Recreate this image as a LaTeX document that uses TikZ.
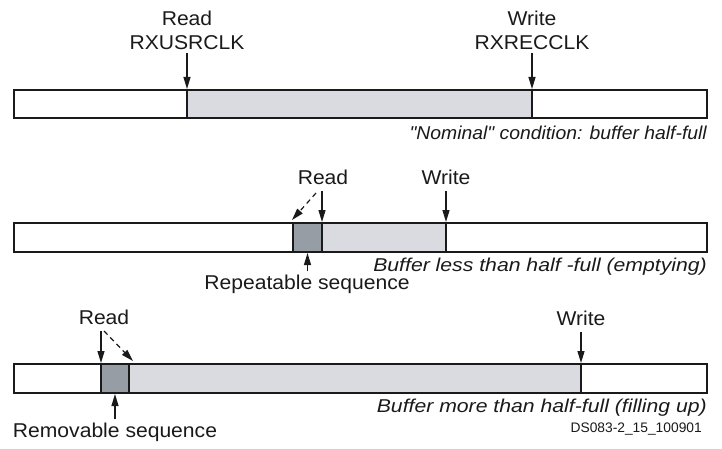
\documentclass[tikz,border=0pt]{standalone}
\usepackage{fontspec}
\setmainfont{Liberation Sans}[Ligatures=TeXOff]
\usetikzlibrary{arrows.meta}
\definecolor{lightfill}{HTML}{DADBE0}
\definecolor{darkfill}{HTML}{969DA5}
\definecolor{ink}{HTML}{1A1A1A}
\newcommand{\lbltext}[1]{\scalebox{1.055}[1]{#1}}
\newcommand{\captext}[2]{\scalebox{#1}[1]{#2}}
\begin{document}
\begin{tikzpicture}[x=1pt,y=-1pt,
  lbl/.style={font=\fontsize{20}{22}\selectfont, text=ink, inner sep=0pt},
  captxt/.style={font=\fontsize{18.6}{22}\selectfont\itshape, text=ink, inner sep=0pt, anchor=east},
  tinytxt/.style={font=\fontsize{13.8}{16}\selectfont, text=ink, inner sep=0pt, anchor=east},
  barline/.style={draw=ink, line width=2.6pt},
  arr/.style={draw=ink, line width=1.2pt, -{Triangle[length=12pt,width=7pt]}},
  darr/.style={draw=ink, line width=1.2pt, dash pattern=on 5pt off 4pt, -{Triangle[length=12pt,width=7pt]}}]
\useasboundingbox (0,0) rectangle (722,449);

% ---------- Bar 1 ----------
\fill[white] (14,90) rectangle (707,118);
\fill[lightfill] (187,90) rectangle (532,118);
\draw[barline] (14,90) rectangle (707,118);
\draw[barline] (187,90) -- (187,118);
\draw[barline] (532,90) -- (532,118);
\coordinate (r1) at (187,89);
\coordinate (w1) at (532,89);
\node[lbl] (read1) at (187,18) {\lbltext{Read}};
\node[lbl] (rxusr) at (187,43) {\lbltext{RXUSRCLK}};
\node[lbl] (write1) at (532,18) {\lbltext{Write}};
\node[lbl] (rxrec) at (532,43) {\lbltext{RXRECCLK}};
\draw[arr] (rxusr.south -| r1) ++(0,3) -- (r1);
\draw[arr] (rxrec.south -| w1) ++(0,3) -- (w1);
\node[captxt] (cap1) at (707,133) {\captext{1.04}{"Nominal" condition: buffer half-full}};

% ---------- Bar 2 ----------
\fill[white] (14,223) rectangle (707,252);
\fill[darkfill] (293,223) rectangle (322,252);
\fill[lightfill] (322,223) rectangle (446,252);
\draw[barline] (14,223) rectangle (707,252);
\draw[barline] (293,223) -- (293,252);
\draw[barline] (322,223) -- (322,252);
\draw[barline] (446,223) -- (446,252);
\coordinate (r2) at (322,222);
\coordinate (r2d) at (292,220);
\coordinate (w2) at (446,222);
\coordinate (rep) at (307.5,253);
\node[lbl] (read2) at (323,177) {\lbltext{Read}};
\node[lbl] (write2) at (446,177) {\lbltext{Write}};
\draw[arr] (322,191) -- (r2);
\draw[darr] (316,193) -- (r2d);
\draw[arr] (446,191) -- (w2);
\node[captxt] (cap2) at (707,267) {\captext{1.14}{Buffer less than half -full (emptying)}};
\node[lbl] (repeat) at (307,284) {\lbltext{Repeatable sequence}};
\draw[arr] (repeat.north -| rep) ++(0,-3) -- (rep);

% ---------- Bar 3 ----------
\fill[white] (14,364) rectangle (707,393);
\fill[darkfill] (101,364) rectangle (129,393);
\fill[lightfill] (129,364) rectangle (581,393);
\draw[barline] (14,364) rectangle (707,393);
\draw[barline] (101,364) -- (101,393);
\draw[barline] (129,364) -- (129,393);
\draw[barline] (581,364) -- (581,393);
\coordinate (r3) at (101,363);
\coordinate (r3d) at (133,361);
\coordinate (w3) at (581,363);
\coordinate (rem) at (115,394);
\node[lbl] (read3) at (104,317) {\lbltext{Read}};
\node[lbl] (write3) at (581,318) {\lbltext{Write}};
\draw[arr] (101,331) -- (r3);
\draw[darr] (104,331) -- (r3d);
\draw[arr] (581,332) -- (w3);
\node[captxt] (cap3) at (707,408) {\captext{1.14}{Buffer more than half-full (filling up)}};
\node[lbl] (remove) at (115,432) {\lbltext{Removable sequence}};
\draw[arr] (remove.north -| rem) ++(0,-3) -- (rem);
\node[tinytxt] (ds) at (702,429) {DS083-2\_15\_100901};
\end{tikzpicture}
\end{document}
